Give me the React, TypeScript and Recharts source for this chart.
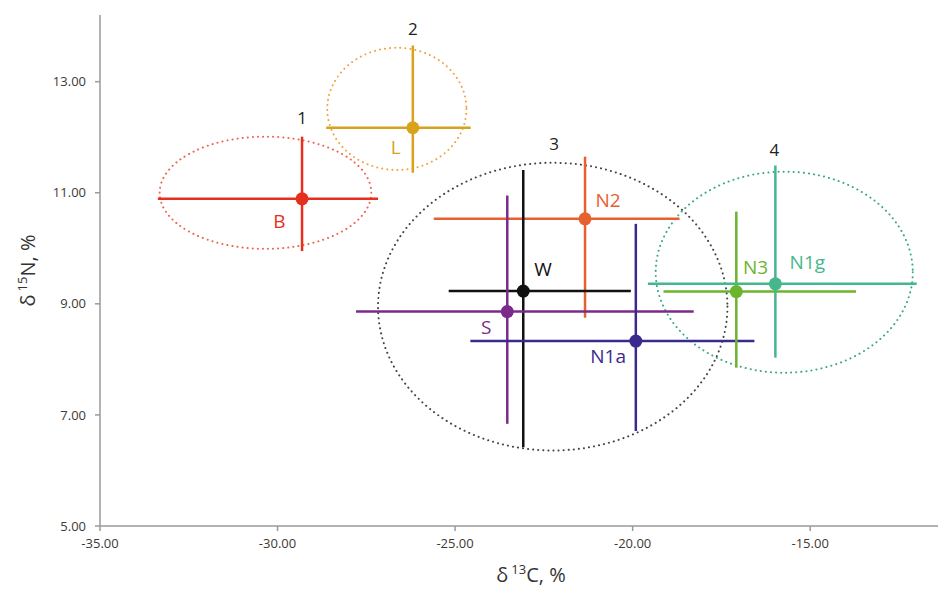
import React from 'react';
import {
  ScatterChart,
  Scatter,
  XAxis,
  YAxis,
  ErrorBar,
  ReferenceArea,
  ReferenceDot,
  Label,
} from 'recharts';

// sample groups
const names = ['B', 'L', 'N2', 'W', 'S', 'N1a', 'N3', 'N1g'];
const colors = ['#e5301d', '#d8a21c', '#e7602f', '#111111', '#7b2a8b', '#3b2a8e', '#6bb42e', '#46b78c'];
const d13C = [-29.31, -26.19, -21.34, -23.08, -23.53, -19.91, -17.08, -15.98];
const d15N = [10.89, 12.17, 10.53, 9.23, 8.86, 8.33, 9.22, 9.36];
// error spreads: [low, high]
const errC = [[4.06, 2.14], [2.44, 1.63], [4.26, 2.66], [2.1, 3.03], [4.26, 5.25], [4.66, 3.34], [2.05, 3.37], [3.59, 3.98]];
const errN = [[0.94, 1.12], [0.81, 1.48], [1.78, 1.12], [2.81, 2.18], [2.02, 2.09], [1.62, 2.11], [1.37, 1.44], [1.33, 2.13]];
// label anchors for sample names
const nameLabelC = [-29.95, -26.67, -20.69, -22.52, -24.12, -20.69, -16.54, -15.08];
const nameLabelN = [10.48, 11.81, 10.87, 9.63, 8.57, 8.05, 9.65, 9.74];

// cluster ellipses
const clusterNames = ['1', '2', '3', '4'];
const clusterColors = ['#ee6550', '#f0a445', '#444444', '#3aa98a'];
const clusterC = [-30.34, -26.64, -22.25, -15.73];
const clusterN = [11.0, 12.51, 8.95, 9.57];
const clusterRC = [2.98, 1.96, 4.92, 3.62];
const clusterRN = [1.01, 1.1, 2.59, 1.81];
const clusterLabelC = [-29.31, -26.19, -22.21, -16.01];
const clusterLabelN = [12.35, 13.95, 11.88, 11.77];

const xTicks = [-35, -30, -25, -20, -15];
const yTicks = [5, 7, 9, 11, 13];

const FONT = '"Open Sans", "Noto Sans", sans-serif';

const points = names.map((n, i) => ({
  name: n,
  x: d13C[i],
  y: d15N[i],
  ex: errC[i],
  ey: errN[i],
  color: colors[i],
}));

export default function App() {
  return (
    <div style={{ position: 'absolute', left: 0, top: 0, background: '#fff' }}>
      <ScatterChart width={940} height={590} margin={{ top: 15, right: 2, bottom: 34, left: 40 }}>
        <XAxis
          type="number"
          dataKey="x"
          domain={[-35, -11.4]}
          ticks={xTicks}
          allowDataOverflow
          tickFormatter={(v: number) => v.toFixed(2)}
          stroke="#9a9a9a"
          strokeWidth={1.5}
          tickSize={5}
          tickMargin={8}
          height={30}
          tick={{ fill: '#3d3a35', fontSize: 13, fontFamily: FONT }}
        >
          <Label
            content={({ viewBox }: any) => (
              <text
                x={viewBox.x + viewBox.width / 2 + 12}
                y={582}
                textAnchor="middle"
                fontFamily={FONT}
                fontSize={20}
                fill="#333"
              >
                δ<tspan dx={3} dy={-8} fontSize={13}>13</tspan>
                <tspan dy={8}>C, %</tspan>
              </text>
            )}
          />
        </XAxis>
        <YAxis
          type="number"
          dataKey="y"
          domain={[5, 14.2]}
          ticks={yTicks}
          allowDataOverflow
          tickFormatter={(v: number) => v.toFixed(2)}
          stroke="#9a9a9a"
          strokeWidth={1.5}
          tickSize={5}
          tickMargin={9}
          width={60}
          tick={{ fill: '#3d3a35', fontSize: 13, fontFamily: FONT }}
        >
          <Label
            content={({ viewBox }: any) => (
              <text
                transform={`translate(35, ${viewBox.y + viewBox.height / 2}) rotate(-90)`}
                textAnchor="middle"
                fontFamily={FONT}
                fontSize={20}
                fill="#333"
              >
                δ<tspan dx={3} dy={-8} fontSize={13}>15</tspan>
                <tspan dy={8}>N, %</tspan>
              </text>
            )}
          />
        </YAxis>

        {clusterNames.map((c, i) => (
          <ReferenceArea
            key={'e' + c}
            x1={clusterC[i] - clusterRC[i]}
            x2={clusterC[i] + clusterRC[i]}
            y1={clusterN[i] - clusterRN[i]}
            y2={clusterN[i] + clusterRN[i]}
            ifOverflow="visible"
            shape={(p: any) => (
              <ellipse
                cx={p.x + p.width / 2}
                cy={p.y + p.height / 2}
                rx={Math.abs(p.width) / 2}
                ry={Math.abs(p.height) / 2}
                fill="none"
                stroke={clusterColors[i]}
                strokeWidth={2}
                strokeDasharray="0.1 5"
                strokeLinecap="round"
              />
            )}
          />
        ))}

        {points.map((p) => (
          <Scatter
            key={p.name}
            data={[p]}
            isAnimationActive={false}
            shape={(s: any) => <circle cx={s.cx} cy={s.cy} r={6.5} fill={p.color} />}
          >
            <ErrorBar dataKey="ex" direction="x" width={0} stroke={p.color} strokeWidth={2.5} />
            <ErrorBar dataKey="ey" direction="y" width={0} stroke={p.color} strokeWidth={2.5} />
          </Scatter>
        ))}

        {names.map((n, i) => (
          <ReferenceDot
            key={'l' + n}
            x={nameLabelC[i]}
            y={nameLabelN[i]}
            r={0}
            fill="none"
            stroke="none"
            ifOverflow="visible"
            label={{ value: n, position: 'center', fill: colors[i], fontSize: 19, fontFamily: FONT }}
          />
        ))}

        {clusterNames.map((c, i) => (
          <ReferenceDot
            key={'c' + c}
            x={clusterLabelC[i]}
            y={clusterLabelN[i]}
            r={0}
            fill="none"
            stroke="none"
            ifOverflow="visible"
            label={{ value: c, position: 'center', fill: '#222', fontSize: 17, fontFamily: FONT }}
          />
        ))}
      </ScatterChart>
    </div>
  );
}
